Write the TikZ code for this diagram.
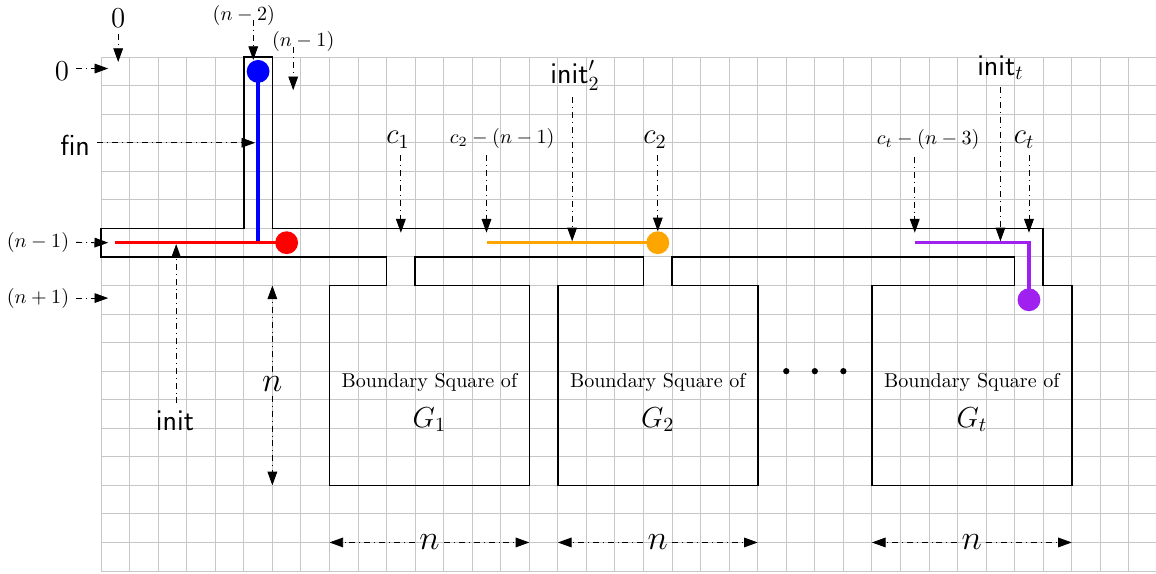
\documentclass[tikz,border=0pt]{standalone}
\usepackage{amsmath}
\usepackage{amssymb}
\usepackage{tikz}
\usetikzlibrary{arrows.meta}
\usepackage{xcolor}

\definecolor{walkorange}{RGB}{255,165,0}
\definecolor{walkpurple}{RGB}{160,32,240}

\begin{document}
\begin{tikzpicture}[
    x=0.5cm, y=-0.5cm,
    gridline/.style={
        draw=black!22,
        line width=0.5pt
    },
    wall/.style={
        draw=black,
        line width=0.8pt
    },
    pointer/.style={
        -{Triangle[length=2.4mm,width=1.7mm]},
        dash dot,
        line width=0.45pt
    },
    walk/.style={
        line width=1.8pt
    },
    endpt/.style={
        circle,
        inner sep=0pt,
        minimum size=0.4cm
    },
    bigtag/.style={font=\Large},
    dimtag/.style={font=\LARGE, inner sep=2pt},
    dotmark/.style={
        circle,
        fill=black,
        inner sep=0pt,
        minimum size=0.11cm
    }
]

\useasboundingbox (-3.54,-2.0) rectangle (36.95,18.07);

% Raster
\draw[gridline, step=0.5cm] (0,0) grid (37,18);

% Corridor, channels and boundary squares
\draw[wall] (0,6) -- (5,6) -- (5,0) -- (6,0) -- (6,6) -- (33,6) -- (33,8)
    -- (34,8) -- (34,15) -- (27,15) -- (27,8) -- (32,8) -- (32,7)
    -- (20,7) -- (20,8) -- (23,8) -- (23,15) -- (16,15) -- (16,8)
    -- (19,8) -- (19,7) -- (11,7) -- (11,8) -- (15,8) -- (15,15)
    -- (8,15) -- (8,8) -- (10,8) -- (10,7) -- (0,7) -- cycle;

% Texts in the squares
\node (sqone) at (11.5,11.4) {Boundary Square of};
\node[bigtag] (gone) at (11.5,12.7) {$G_1$};
\node (sqtwo) at (19.5,11.4) {Boundary Square of};
\node[bigtag] (gtwo) at (19.5,12.7) {$G_2$};
\node (sqt) at (30.5,11.4) {Boundary Square of};
\node[bigtag] (gt) at (30.5,12.7) {$G_t$};

\node[dotmark] (dota) at (24,11) {};
\node[dotmark] (dotb) at (25,11) {};
\node[dotmark] (dotc) at (26,11) {};

% Walks
\node[endpt, fill=blue] (bluedot) at (5.5,0.5) {};
\node[endpt, fill=red] (reddot) at (6.5,6.5) {};
\node[endpt, fill=walkorange] (orangedot) at (19.5,6.5) {};
\node[endpt, fill=walkpurple] (purpledot) at (32.5,8.5) {};

\coordinate (bluebase) at (5.5,6.5);
\coordinate (redstart) at (0.5,6.5);
\coordinate (orangestart) at (13.5,6.5);
\coordinate (purplestart) at (28.5,6.5);
\coordinate (purplecorner) at (32.5,6.5);

\draw[walk, blue] (bluebase) -- (bluedot.center);
\draw[walk, red] (redstart) -- (reddot.center);
\draw[walk, walkorange] (orangestart) -- (orangedot.center);
\draw[walk, walkpurple] (purplestart) -- (purplecorner) -- (purpledot.center);

% Row and column marks
\node[bigtag] (zerotop) at (0.6,-1.37) {$0$};
\coordinate (zerotoptip) at (0.6,0.17);
\draw[pointer] (zerotop) -- (zerotoptip);

\node[bigtag] (zeroleft) at (-1.37,0.5) {$0$};
\coordinate (zerolefttip) at (0.25,0.4);
\draw[pointer] (zeroleft.east |- zerolefttip) -- (zerolefttip);

\node (nmtwo) at (5.0,-1.47) {$(n-2)$};
\coordinate (nmtwotip) at (5.33,0.1);
\draw[pointer] (nmtwotip |- nmtwo.base) -- (nmtwotip);

\node (nmone) at (7.08,-0.53) {$(n-1)$};
\coordinate (nmonetip) at (6.73,1.16);
\draw[pointer] (nmonetip |- nmone.base) -- (nmonetip);

\node[bigtag] (fin) at (-0.91,3.08) {$\mathsf{fin}$};
\coordinate (fintip) at (5.4,3.0);
\draw[pointer] (fin.east |- fintip) -- (fintip);

\node (rowmone) at (-2.21,6.48) {$(n-1)$};
\coordinate (rowmonetip) at (0.25,6.5);
\draw[pointer] (rowmone) -- (rowmonetip);

\node (rowpone) at (-2.21,8.44) {$(n+1)$};
\coordinate (rowponetip) at (0.25,8.44);
\draw[pointer] (rowpone) -- (rowponetip);

\node[bigtag] (init) at (2.59,12.72) {$\mathsf{init}$};
\coordinate (inittip) at (2.63,6.55);
\draw[pointer] (inittip |- init.north) -- (inittip);

% Marks on the corridor
\node[bigtag] (cone) at (10.4,2.9) {$c_1$};
\coordinate (conetip) at (10.5,6.15);
\draw[pointer] (conetip |- cone.south) -- (conetip);

\node (ctwoback) at (14.05,2.84) {$c_2-(n-1)$};
\coordinate (ctwobacktip) at (13.5,6.15);
\draw[pointer] (ctwobacktip |- ctwoback.south) -- (ctwobacktip);

\node[bigtag] (inittwo) at (16.6,0.63) {$\mathsf{init}'_2$};
\coordinate (inittwotip) at (16.5,6.45);
\draw[pointer] (inittwotip |- inittwo.south) -- (inittwotip);

\node[bigtag] (ctwo) at (19.4,2.9) {$c_2$};
\coordinate (ctwotip) at (19.5,6.1);
\draw[pointer] (ctwotip |- ctwo.south) -- (ctwotip);

\node (ctback) at (28.97,2.9) {$c_t-(n-3)$};
\coordinate (ctbacktip) at (28.5,6.15);
\draw[pointer] (ctbacktip |- ctback.south) -- (ctbacktip);

\node[bigtag] (initt) at (31.5,0.38) {$\mathsf{init}_t$};
\coordinate (initttip) at (31.5,6.45);
\draw[pointer] (initttip |- initt.south) -- (initttip);

\node[bigtag] (ct) at (32.33,2.9) {$c_t$};
\coordinate (cttip) at (32.5,6.15);
\draw[pointer] (cttip |- ct.south) -- (cttip);

% Side lengths
\node[dimtag] (nvert) at (6,11.45) {$n$};
\coordinate (nverttop) at (6,8);
\coordinate (nvertbot) at (6,15);
\draw[pointer] (nvert) -- (nverttop);
\draw[pointer] (nvert) -- (nvertbot);

\node[dimtag] (none) at (11.5,17) {$n$};
\coordinate (noneleft) at (8,17);
\coordinate (noneright) at (15,17);
\draw[pointer] (none) -- (noneleft);
\draw[pointer] (none) -- (noneright);

\node[dimtag] (ntwo) at (19.5,17) {$n$};
\coordinate (ntwoleft) at (16,17);
\coordinate (ntworight) at (23,17);
\draw[pointer] (ntwo) -- (ntwoleft);
\draw[pointer] (ntwo) -- (ntworight);

\node[dimtag] (nt) at (30.5,17) {$n$};
\coordinate (ntleft) at (27,17);
\coordinate (ntright) at (34,17);
\draw[pointer] (nt) -- (ntleft);
\draw[pointer] (nt) -- (ntright);

\end{tikzpicture}
\end{document}
